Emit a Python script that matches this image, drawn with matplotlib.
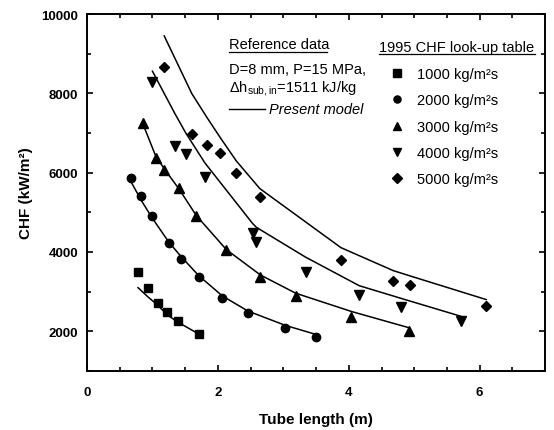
import numpy as np
import matplotlib
matplotlib.use("Agg")
import matplotlib.pyplot as plt
from matplotlib.ticker import MultipleLocator

plt.rcParams['font.family'] = ['Liberation Sans', 'DejaVu Sans']
plt.rcParams['mathtext.fontset'] = 'custom'
plt.rcParams['mathtext.rm'] = 'Liberation Sans'
plt.rcParams['mathtext.it'] = 'Liberation Sans:italic'
plt.rcParams['mathtext.bf'] = 'Liberation Sans:bold'

# 1995 CHF look-up table points and present model, one set per mass flux
x1000 = [0.78, 0.93, 1.08, 1.23, 1.39, 1.71]
chf1000 = [3490, 3080, 2720, 2480, 2260, 1920]
model1000 = [3100, 2870, 2660, 2410, 2230, 1930]

x2000 = [0.68, 0.83, 1.00, 1.25, 1.44, 1.71, 2.07, 2.46, 3.03, 3.50]
chf2000 = [5870, 5400, 4900, 4230, 3820, 3380, 2850, 2470, 2090, 1860]
model2000 = [5750, 5300, 4850, 4250, 3880, 3400, 2890, 2510, 2150, 1920]

x3000 = [0.85, 1.05, 1.18, 1.41, 1.67, 2.13, 2.65, 3.19, 4.04, 4.92]
chf3000 = [7260, 6360, 6080, 5610, 4900, 4050, 3370, 2890, 2370, 2000]
model3000 = [7250, 6420, 6100, 5580, 4920, 4060, 3420, 2960, 2500, 2090]

x4000 = [1.00, 1.34, 1.51, 1.80, 2.53, 2.59, 3.34, 4.16, 4.80, 5.71]
chf4000 = [8290, 6680, 6460, 5880, 4490, 4240, 3500, 2910, 2610, 2250]
model4000 = [8560, 7500, 7000, 6250, 4720, 4620, 3870, 3150, 2830, 2380]

x5000 = [1.18, 1.60, 1.83, 2.03, 2.28, 2.64, 3.88, 4.68, 4.93, 6.10]
chf5000 = [8670, 6980, 6700, 6500, 5990, 5390, 3800, 3270, 3180, 2650]
model5000 = [9450, 8000, 7400, 6900, 6300, 5600, 4110, 3530, 3400, 2800]

labels = ["1000 kg/m²s", "2000 kg/m²s", "3000 kg/m²s", "4000 kg/m²s", "5000 kg/m²s"]
markers = ['s', 'o', '^', 'v', 'D']
sizes = [6, 6, 6.5, 6.5, 5.5]

fig = plt.figure(figsize=(5.54, 4.31), dpi=100)
ax = fig.add_axes([0.157, 0.137, 0.827, 0.828])

series = [(x1000, chf1000, model1000), (x2000, chf2000, model2000),
          (x3000, chf3000, model3000), (x4000, chf4000, model4000),
          (x5000, chf5000, model5000)]
handles = []
for (xs, ys, ms), lab, mk, sz in zip(series, labels, markers, sizes):
    ax.plot(xs, ms, color='black', lw=1.1)
    h, = ax.plot(xs, ys, ls='none', marker=mk, ms=sz, color='black', label=lab)
    handles.append(h)

ax.set_xlim(0, 7)
ax.set_ylim(1000, 10000)
ax.xaxis.set_major_locator(MultipleLocator(2))
ax.xaxis.set_minor_locator(MultipleLocator(0.5))
ax.yaxis.set_major_locator(MultipleLocator(2000))
ax.yaxis.set_minor_locator(MultipleLocator(1000))
ax.tick_params(which='both', direction='in', top=True, right=True, width=1.2)
ax.tick_params(which='major', length=4.5, labelsize=9.5)
ax.tick_params(which='minor', length=3)
ax.tick_params(axis='x', which='major', pad=10.5)
ax.tick_params(axis='y', which='major', pad=6.5)
for lab in ax.get_xticklabels() + ax.get_yticklabels():
    lab.set_fontweight('bold')
for sp in ax.spines.values():
    sp.set_linewidth(1.4)

ax.set_xlabel("Tube length (m)", fontsize=11, fontweight='bold', labelpad=10.5)
ax.set_ylabel("CHF (kW/m²)", fontsize=11, fontweight='bold', labelpad=5.7)

# reference data block
fs = 10.5
ax.text(0.31, 0.916, "Reference data", transform=ax.transAxes, fontsize=fs,
        va='center', ha='left')
ax.plot([0.31, 0.524], [0.895, 0.895], transform=ax.transAxes, color='black', lw=0.9)
ax.text(0.31, 0.846, "D=8 mm, P=15 MPa,", transform=ax.transAxes, fontsize=fs,
        va='center', ha='left')
ax.text(0.31, 0.793, r"$\Delta$h$_{\rm sub,in}$=1511 kJ/kg", transform=ax.transAxes,
        fontsize=fs, va='center', ha='left')
ax.plot([0.31, 0.389], [0.734, 0.734], transform=ax.transAxes, color='black', lw=1.0)
ax.text(0.397, 0.734, "Present model", transform=ax.transAxes, fontsize=fs,
        style='italic', va='center', ha='left')

# look-up table legend
ax.text(0.638, 0.908, "1995 CHF look-up table", transform=ax.transAxes, fontsize=fs,
        va='center', ha='left')
ax.plot([0.638, 0.978], [0.887, 0.887], transform=ax.transAxes, color='black', lw=0.9)
leg = ax.legend(handles=handles, loc='upper left', bbox_to_anchor=(0.661, 0.852),
                frameon=False, borderpad=0, borderaxespad=0, handlelength=1.0,
                handletextpad=0.87, labelspacing=0.85, fontsize=fs, markerscale=0.85)

fig.savefig("out.png", dpi=100)
